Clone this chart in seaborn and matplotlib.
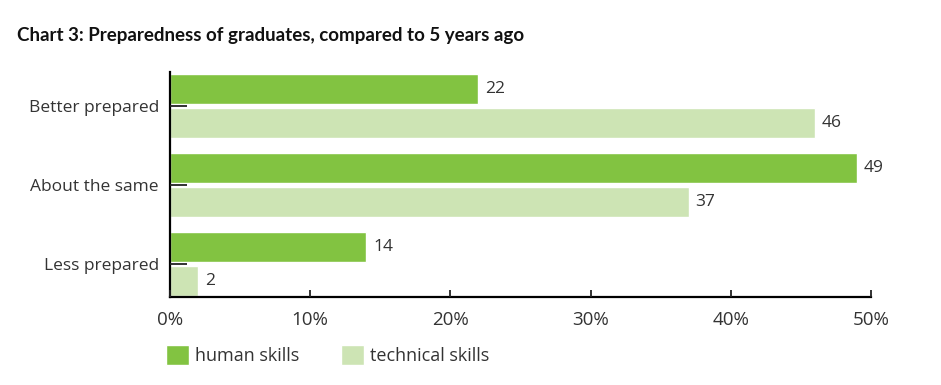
import numpy as np
import pandas as pd
import seaborn as sns
import matplotlib.pyplot as plt

# data
categories = ["Better prepared", "About the same", "Less prepared"]
human_skills = [22, 49, 14]
technical_skills = [46, 37, 2]
series_names = ["human skills", "technical skills"]
x_ticks = [0, 10, 20, 30, 40, 50]

df = pd.DataFrame({
    "category": categories * 2,
    "value": human_skills + technical_skills,
    "skill": [series_names[0]] * 3 + [series_names[1]] * 3,
})

sns.set_style("white")
plt.rcParams["font.family"] = ["Open Sans", "DejaVu Sans"]

text_col = "#333333"
palette = {"human skills": "#82c341", "technical skills": "#cde4b4"}

fig = plt.figure(figsize=(9.41, 3.85), dpi=100)
ax = fig.add_axes([170 / 941, 1 - 297 / 385, (871 - 170) / 941, (297 - 72) / 385])

sns.barplot(data=df, x="value", y="category", hue="skill", orient="h",
            palette=palette, width=0.86, gap=0.1, saturation=1, ax=ax)

for cont in ax.containers:
    ax.bar_label(cont, padding=5, fontsize=12.5, color=text_col)

ax.set_xlim(0, 50)
ax.set_ylim(2.42, -0.43)
ax.set_xticks(x_ticks)
ax.set_xticklabels([f"{t}%" for t in x_ticks], fontsize=13.5, color=text_col)
ax.set_yticklabels(categories, fontsize=12.5, color=text_col)
ax.set_xlabel("")
ax.set_ylabel("")
ax.set_axisbelow(False)

sns.despine(ax=ax)
for s in ["left", "bottom"]:
    ax.spines[s].set_color("black")
    ax.spines[s].set_linewidth(1.6)

ax.tick_params(axis="y", left=True, direction="in", length=12, width=1.3, color="#222222", pad=8)
ax.tick_params(axis="x", bottom=True, direction="in", length=5, width=1.3, color="#222222", pad=10)

handles, labels = ax.get_legend_handles_labels()
ax.get_legend().remove()
fig.legend(handles, labels, loc="upper left", bbox_to_anchor=(166 / 941, 1 - 345 / 385),
           bbox_transform=fig.transFigure, ncol=2, frameon=False, fontsize=13,
           handlelength=1.3, handleheight=1.3, handletextpad=0.3,
           columnspacing=2.3, borderpad=0, borderaxespad=0, labelcolor=text_col)

fig.text(17 / 941, 1 - 35 / 385, "Chart 3: Preparedness of graduates, compared to 5 years ago",
         fontsize=13.5, fontweight="bold", color="#111111", va="center", ha="left",
         family=["Lato", "DejaVu Sans"])

fig.savefig("out.png", dpi=100)
